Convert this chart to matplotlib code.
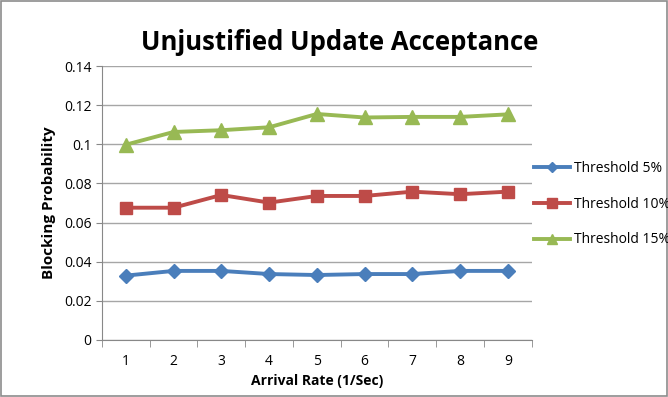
import matplotlib
matplotlib.use('Agg')
import matplotlib.pyplot as plt
from matplotlib.patches import Rectangle

rates = [1, 2, 3, 4, 5, 6, 7, 8, 9]
thr5 = [0.0329, 0.0353, 0.0353, 0.0337, 0.0332, 0.0337, 0.0337, 0.0353, 0.0353]
thr10 = [0.0676, 0.0676, 0.0741, 0.0702, 0.0736, 0.0736, 0.0758, 0.0745, 0.0758]
thr15 = [0.0998, 0.1063, 0.1072, 0.1087, 0.1155, 0.1137, 0.1140, 0.1140, 0.1153]
labels = ['Threshold 5%', 'Threshold 10%', 'Threshold 15%']

plt.rcParams['font.family'] = ['Open Sans', 'DejaVu Sans']

fig = plt.figure(figsize=(6.68, 3.97), dpi=100)
fig.patches.append(Rectangle((0.002, 0.002), 0.996, 0.996, transform=fig.transFigure,
                             fill=False, edgecolor='#8c8c8c', linewidth=1.2))
ax = fig.add_axes([0.1527, 0.1436, 0.6433, 0.6901])

ax.plot(rates, thr5, color='#4A7EBB', marker='D', markersize=7, linewidth=2.8, label=labels[0])
ax.plot(rates, thr10, color='#BE4B48', marker='s', markersize=9, linewidth=2.8, label=labels[1])
ax.plot(rates, thr15, color='#98B954', marker='^', markersize=10, linewidth=2.8, label=labels[2])

ax.set_xlim(0.5, 9.5)
ax.set_ylim(0, 0.14)
ax.set_yticks([0, 0.02, 0.04, 0.06, 0.08, 0.1, 0.12, 0.14])
ax.set_yticklabels(['0', '0.02', '0.04', '0.06', '0.08', '0.1', '0.12', '0.14'])
ax.set_xticks(rates)
ax.set_xticks([r + 0.5 for r in [0] + rates], minor=True)
ax.tick_params(axis='x', which='major', length=0, pad=10, labelsize=10)
ax.tick_params(axis='x', which='minor', length=5, color='#888888')
ax.tick_params(axis='y', length=4, color='#888888', labelsize=10)
ax.grid(axis='y', color='#a6a6a6', linewidth=1)
ax.set_axisbelow(True)
for s in ['top', 'right']:
    ax.spines[s].set_visible(False)
for s in ['left', 'bottom']:
    ax.spines[s].set_color('#888888')

ax.set_xlabel('Arrival Rate (1/Sec)', fontsize=10, fontweight='bold', labelpad=4)
ax.set_ylabel('Blocking Probability', fontsize=11, fontweight='bold', labelpad=6)
fig.text(0.508, 0.893, 'Unjustified Update Acceptance', ha='center', va='center',
         fontsize=18.5, fontweight='bold')

fig.legend(loc='center left', bbox_to_anchor=(0.781, 0.486), frameon=False,
           fontsize=10, handlelength=2.6, labelspacing=1.5, handletextpad=0.3,
           markerscale=0.75)

fig.savefig('out.png', dpi=100)
